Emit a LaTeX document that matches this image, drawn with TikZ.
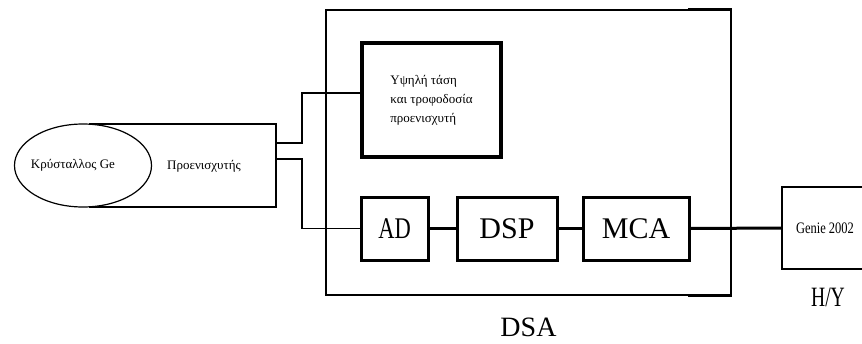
\documentclass[tikz,border=0pt]{standalone}
\usepackage{fontspec}
\setmainfont{Liberation Serif}
\usetikzlibrary{shapes.geometric}
\begin{document}
\begin{tikzpicture}[x=1pt,y=-1pt,
 box/.style={draw, line width=3pt, inner sep=0pt, rectangle},
 thinbox/.style={draw, line width=1.5pt, inner sep=0pt, rectangle},
 big/.style={font=\fontsize{30}{36}\selectfont},
 small/.style={font=\fontsize{13}{19}\selectfont},
 wire/.style={line width=1.5pt},
 bus/.style={line width=2.2pt},
]
\useasboundingbox (0,0) rectangle (862,343);
% preamplifier + crystal
\node[thinbox, minimum width=186pt, minimum height=83pt] (pre) at (183,165.5) {};
\node[ellipse, draw, fill=white, line width=1.2pt, minimum width=137pt, minimum height=83pt, inner sep=0pt] (ge) at (83,165.5) {};
\node[small] (getext) at (73,165.5) {Κρύσταλλος Ge};
\node[small] (pretext) at (204,166) {Προενισχυτής};
% DSA
\node[thinbox, line width=1.8pt, minimum width=405pt, minimum height=285pt] (dsa) at (528.5,152.5) {};
\draw[line width=3pt] (dsa.north east) ++(-44,0) -- (dsa.north east);
\draw[line width=3pt] (dsa.south east) ++(-44,0) -- (dsa.south east);
\node[font=\fontsize{28}{34}\selectfont] (dsalab) at (528.5,327) {DSA};
\node[box, line width=3.5pt, minimum width=139pt, minimum height=114pt, small, align=left] (hv) at (431.5,100) {Υψηλή τάση\\και τροφοδοσία\\προενισχυτή};
\node[box, minimum width=67pt, minimum height=63pt, big] (ad) at (394.5,228.5) {\scalebox{0.75}[1]{AD}};
\node[box, minimum width=100pt, minimum height=63pt, big] (dsp) at (507,228.5) {DSP};
\node[box, minimum width=106pt, minimum height=63pt, big] (mca) at (636,228.5) {MCA};
% computer
\node[thinbox, minimum width=86pt, minimum height=82pt] (genie) at (825,228) {\fontsize{16}{19}\selectfont\scalebox{0.78}[1]{Genie 2002}};
\node[font=\fontsize{28}{34}\selectfont] (hylab) at (828,297) {\scalebox{0.7}[1]{H/Y}};
% connectors
\coordinate (u) at (302,143);
\coordinate (v) at (302,93);
\coordinate (w) at (302,159);
\draw[wire] (pre.east |- u) -- (u) |- (hv.west |- v);
\draw[wire] (pre.east |- w) -- (w) |- (ad.west);
\draw[bus] (ad.east) -- (dsp.west);
\draw[bus] (dsp.east) -- (mca.west);
\draw[line width=3pt] (mca.east) -- (genie.west);
\end{tikzpicture}
\end{document}
